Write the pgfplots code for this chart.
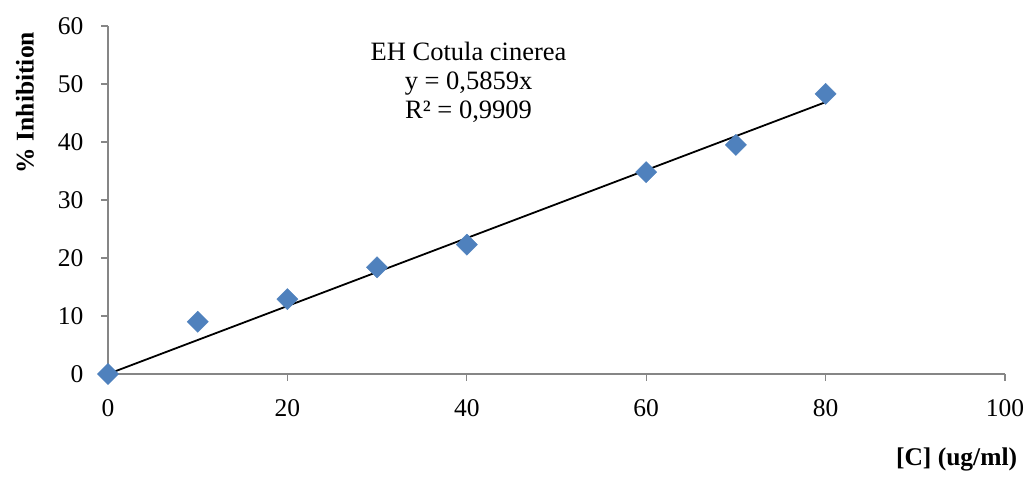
\documentclass[border=0pt]{standalone}
\usepackage{pgfplots}
\pgfplotsset{compat=1.18}
\usepackage{fontspec}
\setmainfont{Liberation Serif}
\definecolor{mk}{HTML}{4F81BD}
\definecolor{ax}{HTML}{868686}
\begin{document}
\fontsize{25.5}{29}\selectfont
\begin{tikzpicture}
\begin{axis}[
  name=main,
  scale only axis, width=897pt, height=348pt,
  xmin=0, xmax=100, ymin=0, ymax=60,
  xtick={0,20,...,100}, ytick={0,10,...,60},
  axis x line*=bottom, axis y line*=left,
  axis line style={ax, line width=1.3pt},
  tick style={ax, line width=1.3pt},
  tick align=outside, major tick length=7pt,
  /pgf/number format/assume math mode=true,
  ticklabel style={font=\fontsize{25.5}{29}\selectfont, text=black},
  yticklabel style={xshift=-9pt},
  xticklabel style={yshift=-10pt},
  clip=false,
]
\addplot[only marks, mark=square*, mark size=7.5pt, mark options={rotate=45, fill=mk, draw=mk}]
 coordinates {(0,0) (10,9.0) (20,12.9) (30,18.4) (40,22.3) (60,34.8) (70,39.5) (80,48.3)};
\addplot[black, line width=1.8pt, no marks] coordinates {(0,0) (80,46.872)};
\node[rotate=90, font=\bfseries\fontsize{25.5}{29}\selectfont] at (rel axis cs:-0.0925,0.78) {\% Inhibition};
\node[font=\bfseries\fontsize{25.5}{29}\selectfont] at (rel axis cs:0.946,-0.247) {[C] (ug/ml)};
\node[align=center, font=\fontsize{26.5}{29}\selectfont] at (axis cs:40.2,50.2) {EH Cotula cinerea\\y = 0,5859x\\R² = 0,9909};
\end{axis}
\pgfresetboundingbox
\path[use as bounding box] ([shift={(-108pt,-103pt)}]main.south west) rectangle ([shift={(29pt,26pt)}]main.north east);
\end{tikzpicture}
\end{document}
